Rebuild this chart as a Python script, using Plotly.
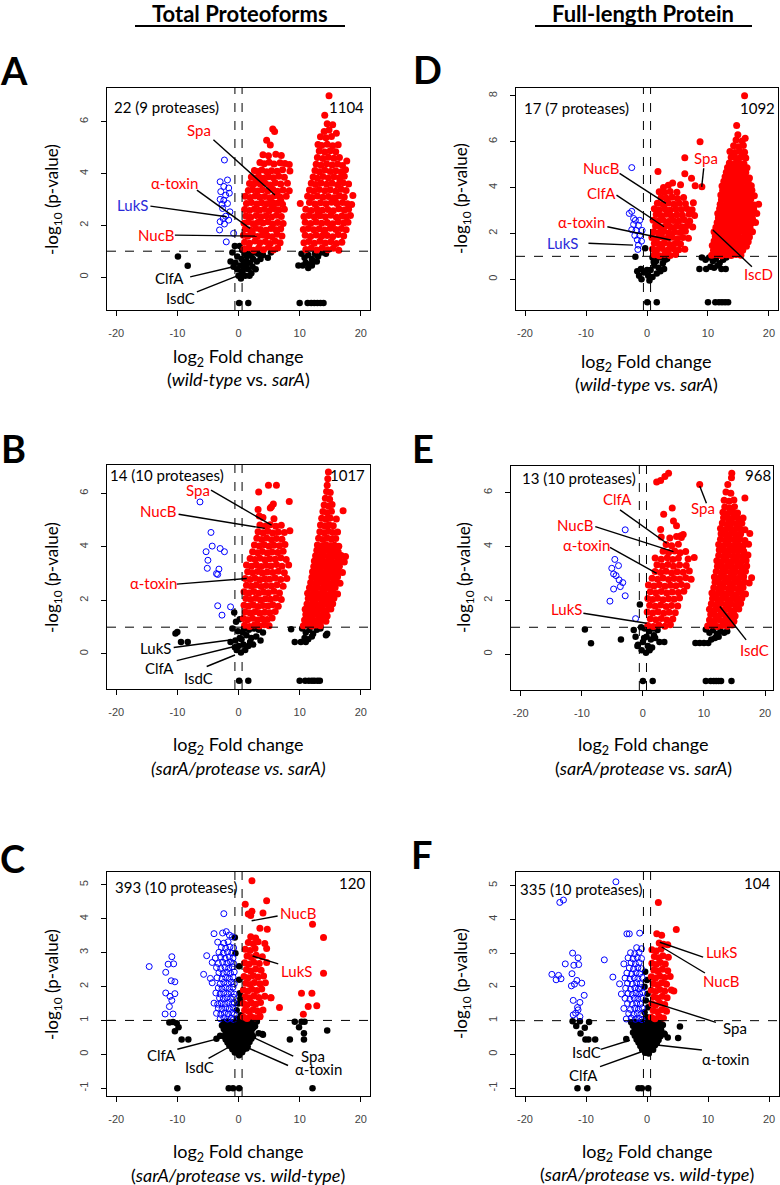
import plotly.graph_objects as go

W, H = 780, 1185
RED = "#ff0000"
BLUE = "#0000ff"
LBLUE = "#2a2ad8"
FONT = "Lato, 'Open Sans', sans-serif"

# ----------------------------------------------------------------- data
# (log2 fold change, -log10 p-value) pairs

# ---- Panel A: total proteoforms, wild-type vs sarA
A_red = [
    (0.9,1.08),(1.7,1.13),(2.5,1.04),(3.3,1.12),(4.1,1.06),(4.9,1.15),(5.7,1.05),(6.4,1.12),
    (1.0,1.35),(1.8,1.31),(2.7,1.39),(3.5,1.33),(4.4,1.37),(5.2,1.30),(6.0,1.38),(6.8,1.33),
    (0.8,1.62),(1.5,1.58),(2.3,1.64),(3.1,1.57),(3.9,1.63),(4.7,1.60),(5.5,1.56),(6.3,1.65),(7.1,1.59),
    (1.1,1.86),(1.9,1.82),(2.8,1.89),(3.6,1.84),(4.5,1.81),(5.3,1.88),(6.1,1.83),(6.9,1.87),
    (0.9,2.08),(1.6,2.13),(2.4,2.06),(3.2,2.12),(4.0,2.09),(4.8,2.14),(5.6,2.05),(6.4,2.11),(7.3,2.07),
    (1.2,2.36),(2.0,2.31),(2.9,2.38),(3.7,2.33),(4.5,2.37),(5.4,2.32),(6.2,2.39),(7.0,2.34),
    (1.0,2.61),(1.8,2.57),(2.6,2.63),(3.4,2.58),(4.2,2.62),(5.0,2.56),(5.8,2.64),(6.6,2.59),(7.5,2.62),
    (1.3,2.84),(2.1,2.88),(3.0,2.82),(3.8,2.87),(4.6,2.83),(5.5,2.89),(6.3,2.85),(7.2,2.81),
    (1.1,3.12),(1.9,3.07),(2.7,3.13),(3.5,3.08),(4.3,3.11),(5.1,3.06),(5.9,3.14),(6.8,3.09),(7.8,3.12),
    (1.6,3.34),(2.3,3.38),(3.1,3.32),(3.9,3.37),(4.8,3.33),(5.6,3.39),(6.4,3.31),(7.3,3.36),(8.3,3.33),
    (1.8,3.61),(2.4,3.57),(2.8,3.63),(3.6,3.58),(4.4,3.62),(5.2,3.56),(6.0,3.64),(6.9,3.59),(8.0,3.62),
    (2.1,3.86),(2.7,3.83),(3.3,3.88),(4.1,3.82),(4.9,3.87),(5.7,3.84),(6.6,3.89),(7.5,3.85),
    (2.6,4.12),(3.2,4.08),(3.8,4.13),(4.6,4.07),(5.4,4.11),(6.3,4.09),(7.2,4.14),(8.4,4.10),
    (3.5,4.42),(4.2,4.38),(5.0,4.43),(5.8,4.37),(6.8,4.41),(7.6,4.39),
    (4.0,4.72),(4.9,4.68),(6.1,4.74),(7.0,4.69),(8.3,4.35),
    (5.2,5.10),(5.6,5.72),(5.9,5.62),(4.6,5.28),(3.4,3.72),(5.5,2.72),(2.2,1.72),(6.9,2.96),
    (11.0,1.07),(11.9,1.12),(12.8,1.05),(13.7,1.13),(14.6,1.06),(15.5,1.11),(16.4,1.04),
    (10.7,1.33),(11.5,1.37),(12.4,1.31),(13.3,1.38),(14.2,1.32),(15.1,1.36),(16.0,1.30),(16.9,1.35),
    (10.9,1.62),(11.8,1.57),(12.7,1.63),(13.6,1.58),(14.5,1.61),(15.4,1.56),(16.3,1.64),(17.2,1.59),
    (10.6,1.84),(11.4,1.88),(12.3,1.83),(13.2,1.87),(14.1,1.82),(15.0,1.89),(15.9,1.84),(16.8,1.88),(17.6,1.83),
    (10.9,2.12),(11.8,2.07),(12.7,2.13),(13.6,2.08),(14.5,2.11),(15.4,2.06),(16.3,2.14),(17.2,2.09),(17.9,2.12),
    (10.7,2.34),(11.5,2.38),(12.4,2.32),(13.3,2.37),(14.2,2.33),(15.1,2.39),(16.0,2.31),(16.9,2.36),(17.6,2.33),(18.3,2.38),
    (11.0,2.62),(11.9,2.57),(12.8,2.63),(13.7,2.58),(14.6,2.61),(15.5,2.56),(16.4,2.64),(17.3,2.59),(18.0,2.62),
    (10.1,2.84),(11.6,2.88),(12.5,2.82),(13.4,2.87),(14.3,2.83),(15.2,2.89),(16.1,2.84),(17.0,2.88),(17.8,2.83),(18.5,2.80),
    (11.3,3.12),(12.0,3.07),(12.9,3.13),(13.8,3.08),(14.7,3.11),(15.6,3.06),(16.5,3.14),(17.3,3.09),(18.7,3.15),
    (11.6,3.36),(12.3,3.32),(13.2,3.38),(14.1,3.33),(15.0,3.37),(15.9,3.31),(16.8,3.39),(17.6,3.34),
    (11.9,3.62),(12.6,3.57),(13.5,3.63),(14.4,3.58),(15.3,3.62),(16.2,3.56),(17.1,3.64),(18.0,3.59),
    (12.2,3.86),(12.9,3.82),(13.8,3.88),(14.7,3.83),(15.6,3.87),(16.5,3.84),(17.3,3.89),
    (12.5,4.12),(13.2,4.07),(14.1,4.13),(15.0,4.08),(15.9,4.11),(16.8,4.06),(17.5,4.14),
    (12.7,4.36),(13.5,4.32),(14.4,4.38),(15.3,4.33),(16.2,4.37),(17.0,4.31),(17.7,4.48),
    (12.9,4.62),(13.8,4.58),(14.7,4.63),(15.6,4.59),(16.5,4.62),
    (13.2,4.87),(14.1,4.83),(15.0,4.88),(15.9,4.84),
    (13.0,5.12),(13.6,5.08),(14.5,5.13),(15.4,5.07),(16.3,5.11),
    (13.4,5.42),(14.3,5.38),(15.2,5.43),
    (14.0,5.62),(14.8,5.68),(16.0,5.55),
    (14.5,5.92),(15.4,5.88),(14.1,6.25),(14.8,7.0),(13.0,2.47),(15.8,2.97),(14.0,1.72),(16.6,3.72),
]
A_blue = [
    (-2.3,4.52),(-3.0,3.68),(-1.8,3.75),(-2.4,3.50),(-1.6,3.44),(-1.5,3.24),(-2.9,3.30),
    (-2.1,3.16),(-2.4,2.97),(-3.0,3.00),(-2.7,2.81),(-1.8,2.84),(-2.6,2.65),(-2.1,2.35),
    (-2.5,2.26),(-1.6,2.20),(-3.0,2.14),(-2.3,2.05),(-0.8,1.69),(-3.1,1.82),(-2.0,1.36),(-1.4,2.52),
]
A_black = [
    (-1.0,0.95),(-0.6,1.2),(0.2,1.2),(0.6,1.05),(-0.2,0.8),(0.5,0.7),(1.0,0.9),(1.5,0.95),
    (2.0,0.85),(2.6,0.95),(3.2,0.9),(4.0,0.85),(4.8,0.75),(5.3,0.95),(1.3,0.6),(1.9,0.55),
    (2.4,0.7),(3.0,0.6),(0.3,0.45),(0.9,0.35),(1.6,0.3),(2.3,0.4),(-0.8,0.4),(-0.2,0.3),
    (0.5,0.15),(1.1,0.05),(0.0,0.05),(0.7,0.25),(1.4,0.8),(0.9,0.55),(-1.3,0.6),(-0.5,0.55),
    (2.8,0.3),(1.8,0.05),(0.4,-0.05),(1.2,0.45),(3.6,0.7),(2.1,0.15),
    (-9.9,0.8),(-8.3,0.44),
    (10.3,0.9),(10.8,0.75),(11.4,0.85),(12.0,0.7),(12.5,0.9),(13.0,0.8),(13.6,0.95),(14.3,0.9),
    (11.0,0.55),(11.7,0.5),(12.3,0.6),(11.4,0.35),(12.0,0.45),(9.8,0.45),(10.5,0.45),(12.8,0.6),
    (0.1,-1),(1.6,-1),(10.0,-1),(11.3,-1),(11.9,-1),(12.4,-1),(12.9,-1),(13.4,-1),(13.9,-1),
]

# ---- Panel D: full-length protein, wild-type vs sarA
D_red = [
    (1.2,1.07),(2.0,1.03),(2.9,1.09),(3.8,1.04),(4.7,1.08),
    (0.9,1.32),(1.6,1.28),(2.5,1.34),(3.4,1.27),(4.3,1.33),(5.2,1.29),(6.2,1.31),
    (1.2,1.57),(2.0,1.53),(2.8,1.58),(3.7,1.52),(4.6,1.56),(5.5,1.54),
    (0.8,1.82),(1.6,1.78),(2.4,1.84),(3.3,1.79),(4.1,1.83),(5.0,1.77),(5.9,1.82),(6.8,1.79),
    (1.1,2.07),(1.9,2.03),(2.8,2.08),(3.6,2.02),(4.5,2.06),(5.4,2.04),(6.3,2.09),
    (1.4,2.32),(2.2,2.28),(3.1,2.33),(3.9,2.27),(4.8,2.31),(5.7,2.29),(6.6,2.34),(7.5,2.28),
    (1.0,2.57),(1.8,2.53),(2.6,2.58),(3.5,2.52),(4.3,2.56),(5.2,2.54),(6.1,2.59),(7.0,2.53),
    (1.5,2.82),(2.3,2.78),(3.2,2.83),(4.0,2.77),(4.9,2.81),(5.8,2.79),(6.9,2.84),(7.8,2.78),
    (1.2,3.07),(2.0,3.03),(2.9,3.08),(3.8,3.02),(4.7,3.06),(5.6,3.04),(6.5,3.09),(7.4,3.03),
    (1.7,3.32),(2.6,3.28),(3.5,3.33),(4.4,3.27),(5.3,3.31),(6.3,3.29),(7.6,3.34),
    (2.3,3.57),(3.2,3.53),(4.1,3.58),(5.0,3.52),(6.0,3.56),
    (2.0,3.82),(2.9,3.78),(3.8,3.83),(4.9,3.79),
    (3.5,4.10),(5.5,4.12),(7.9,4.08),
    (1.8,4.70),(6.2,4.60),(7.3,4.40),(6.2,5.30),(8.7,6.00),(9.0,4.03),(4.2,4.20),(2.7,4.00),
    (10.6,1.05),(11.4,1.08),(12.2,1.03),(13.0,1.07),(13.8,1.04),(14.6,1.08),(15.4,1.05),
    (10.9,1.27),(11.7,1.23),(12.5,1.28),(13.3,1.24),(14.1,1.27),(14.9,1.22),(15.7,1.26),
    (10.7,1.47),(11.5,1.43),(12.3,1.48),(13.1,1.44),(13.9,1.46),(14.7,1.42),(15.5,1.48),(16.3,1.44),
    (11.0,1.67),(11.8,1.63),(12.6,1.68),(13.4,1.64),(14.2,1.66),(15.0,1.62),(15.8,1.68),(16.6,1.64),
    (11.2,1.87),(12.0,1.83),(12.8,1.88),(13.6,1.84),(14.4,1.86),(15.2,1.82),(16.0,1.88),(16.8,1.84),
    (11.0,2.07),(11.8,2.03),(12.6,2.08),(13.4,2.04),(14.2,2.06),(15.0,2.02),(15.8,2.08),(16.6,2.04),(17.3,2.07),
    (11.3,2.27),(12.1,2.23),(12.9,2.28),(13.7,2.24),(14.5,2.26),(15.3,2.22),(16.1,2.28),(16.9,2.24),
    (11.5,2.47),(12.3,2.43),(13.1,2.48),(13.9,2.44),(14.7,2.46),(15.5,2.42),(16.3,2.48),(17.1,2.44),(17.8,2.47),
    (11.7,2.67),(12.5,2.63),(13.3,2.68),(14.1,2.64),(14.9,2.66),(15.7,2.62),(16.5,2.68),(17.3,2.64),
    (11.6,2.87),(12.4,2.83),(13.2,2.88),(14.0,2.84),(14.8,2.86),(15.6,2.82),(16.4,2.88),(17.2,2.84),(18.0,2.87),
    (11.9,3.07),(12.7,3.03),(13.5,3.08),(14.3,3.04),(15.1,3.06),(15.9,3.02),(16.7,3.08),(17.5,3.04),
    (12.0,3.27),(12.8,3.23),(13.6,3.28),(14.4,3.24),(15.2,3.26),(16.0,3.22),(16.8,3.28),(17.6,3.24),(18.3,3.27),
    (12.2,3.47),(13.0,3.43),(13.8,3.48),(14.6,3.44),(15.4,3.46),(16.2,3.42),(17.0,3.48),
    (12.1,3.67),(12.9,3.63),(13.7,3.68),(14.5,3.64),(15.3,3.66),(16.1,3.62),(16.9,3.68),(17.6,3.64),
    (12.4,3.87),(13.2,3.83),(14.0,3.88),(14.8,3.84),(15.6,3.86),(16.4,3.82),(17.2,3.88),
    (12.3,4.07),(13.1,4.03),(13.9,4.08),(14.7,4.04),(15.5,4.06),(16.3,4.02),(17.1,4.08),
    (12.6,4.27),(13.4,4.23),(14.2,4.28),(15.0,4.24),(15.8,4.26),(16.6,4.22),
    (12.8,4.47),(13.6,4.43),(14.4,4.48),(15.2,4.44),(16.0,4.46),(16.8,4.42),
    (13.0,4.67),(13.8,4.63),(14.6,4.68),(15.4,4.64),(16.2,4.66),
    (13.2,4.87),(14.0,4.83),(14.8,4.88),(15.6,4.84),(16.4,4.86),
    (13.5,5.07),(14.3,5.03),(15.1,5.08),(15.9,5.04),
    (13.8,5.32),(14.6,5.28),(15.4,5.33),(16.2,5.29),
    (13.6,5.57),(14.4,5.53),(15.2,5.58),(16.0,5.54),
    (14.2,5.82),(15.0,5.78),(15.8,5.83),
    (14.6,6.07),(15.6,6.03),(16.1,6.15),(14.9,6.30),(14.7,6.70),(16.0,8.0),
]
D_blue = [
    (-2.5,4.87),(-2.9,2.87),(-2.5,2.96),(-1.9,2.57),(-2.2,2.39),(-1.4,2.35),(-1.8,2.13),
    (-2.5,2.16),(-0.8,2.13),(-1.2,1.91),(-1.6,1.72),(-0.9,1.66),(-2.0,1.91),(-1.4,1.49),
    (-1.5,1.30),(-2.2,2.65),(-1.2,2.57),
]
D_black = [
    (-1.9,0.98),(-0.3,1.35),(0.9,0.95),(1.5,0.8),(2.3,0.95),(3.0,0.85),(1.2,0.6),(1.9,0.5),
    (2.6,0.7),(0.6,0.4),(-1.0,0.45),(-1.6,0.35),(-0.5,0.3),(0.2,0.15),(0.9,0.1),(0.4,-0.05),
    (1.6,0.25),(2.2,0.35),(-1.3,0.15),(0.0,0.4),(2.8,0.45),(1.1,0.75),(-0.9,0.0),(3.3,0.9),
    (9.0,0.95),(9.6,0.85),(10.2,0.95),(10.8,0.8),(11.3,0.9),(11.9,0.7),(12.5,0.85),(13.0,0.95),
    (10.4,0.55),(11.0,0.5),(11.6,0.6),(12.2,0.45),(8.6,0.45),(9.7,0.45),(12.9,0.45),
    (0.05,-1),(1.6,-1),(10.0,-1),(11.2,-1),(11.8,-1),(12.3,-1),(12.8,-1),(13.3,-1),
]

# ---- Panel B: total proteoforms, sarA/protease vs sarA
B_red = [
    (1.0,1.07),(1.8,1.03),(2.6,1.08),(3.4,1.04),(4.2,1.09),(5.0,1.05),
    (0.8,1.32),(1.5,1.28),(2.3,1.33),(3.1,1.27),(3.9,1.31),(4.7,1.29),(5.5,1.34),
    (1.1,1.57),(1.9,1.53),(2.7,1.58),(3.5,1.52),(4.3,1.56),(5.1,1.54),(6.0,1.59),
    (0.9,1.82),(1.6,1.78),(2.4,1.83),(3.2,1.77),(4.0,1.81),(4.8,1.79),(5.6,1.84),(6.5,1.78),
    (1.2,2.07),(2.0,2.03),(2.8,2.08),(3.6,2.02),(4.4,2.06),(5.2,2.04),(6.1,2.09),(7.0,2.03),
    (0.9,2.32),(1.7,2.28),(2.5,2.33),(3.3,2.27),(4.1,2.31),(4.9,2.29),(5.8,2.34),(6.7,2.28),
    (1.3,2.57),(2.1,2.53),(2.9,2.58),(3.7,2.52),(4.5,2.56),(5.4,2.54),(6.3,2.59),(7.3,2.53),
    (1.1,2.82),(1.9,2.78),(2.7,2.83),(3.5,2.77),(4.3,2.81),(5.1,2.79),(6.0,2.84),(6.9,2.78),(7.9,2.82),
    (1.5,3.07),(2.3,3.03),(3.1,3.08),(3.9,3.02),(4.7,3.06),(5.6,3.04),(6.5,3.09),(7.5,3.03),
    (1.3,3.32),(2.1,3.28),(2.9,3.33),(3.7,3.27),(4.5,3.31),(5.3,3.29),(6.2,3.34),(7.1,3.28),(8.2,3.32),
    (1.9,3.57),(2.7,3.53),(3.5,3.58),(4.3,3.52),(5.1,3.56),(6.0,3.54),(6.9,3.59),(7.8,3.53),
    (2.3,3.82),(3.1,3.78),(3.9,3.83),(4.7,3.77),(5.5,3.81),(6.4,3.79),(7.3,3.84),
    (2.6,4.07),(3.4,4.03),(4.2,4.08),(5.0,4.02),(5.8,4.06),(6.7,4.04),(7.6,4.09),
    (3.0,4.32),(3.8,4.28),(4.6,4.33),(5.4,4.27),(6.2,4.31),(7.1,4.29),
    (3.2,4.57),(4.0,4.53),(4.8,4.58),(5.6,4.52),(6.5,4.56),(7.5,4.54),(8.4,4.60),
    (3.5,4.82),(4.4,4.78),(5.2,4.83),(6.1,4.77),(7.0,4.81),
    (4.0,5.10),(5.8,5.05),(3.4,5.15),(3.2,5.40),(5.2,5.45),
    (3.3,6.05),(4.9,6.30),(5.7,5.60),(6.2,6.30),(5.4,5.50),(8.3,5.70),
    (10.6,1.05),(11.3,1.09),(12.0,1.04),(12.7,1.08),(13.4,1.05),
    (10.8,1.27),(11.5,1.23),(12.2,1.28),(12.9,1.24),(13.6,1.27),(14.3,1.22),
    (11.0,1.47),(11.7,1.43),(12.4,1.48),(13.1,1.44),(13.8,1.46),(14.5,1.42),
    (10.9,1.67),(11.6,1.63),(12.3,1.68),(13.0,1.64),(13.7,1.66),(14.4,1.62),(15.1,1.68),
    (11.2,1.87),(11.9,1.83),(12.6,1.88),(13.3,1.84),(14.0,1.86),(14.7,1.82),(15.4,1.88),
    (11.4,2.07),(12.1,2.03),(12.8,2.08),(13.5,2.04),(14.2,2.06),(14.9,2.02),(15.6,2.08),
    (11.3,2.27),(12.0,2.23),(12.7,2.28),(13.4,2.24),(14.1,2.26),(14.8,2.22),(15.5,2.28),(16.2,2.24),
    (11.6,2.47),(12.3,2.43),(13.0,2.48),(13.7,2.44),(14.4,2.46),(15.1,2.42),(15.8,2.48),
    (11.8,2.67),(12.5,2.63),(13.2,2.68),(13.9,2.64),(14.6,2.66),(15.3,2.62),(16.0,2.68),(16.6,2.64),
    (12.0,2.87),(12.7,2.83),(13.4,2.88),(14.1,2.84),(14.8,2.86),(15.5,2.82),(16.2,2.88),
    (12.1,3.07),(12.8,3.03),(13.5,3.08),(14.2,3.04),(14.9,3.06),(15.6,3.02),(16.3,3.08),(17.0,3.04),
    (12.3,3.27),(13.0,3.23),(13.7,3.28),(14.4,3.24),(15.1,3.26),(15.8,3.22),(16.5,3.28),
    (12.4,3.47),(13.1,3.43),(13.8,3.48),(14.5,3.44),(15.2,3.46),(15.9,3.42),(16.6,3.48),(17.3,3.44),
    (12.6,3.67),(13.3,3.63),(14.0,3.68),(14.7,3.64),(15.4,3.66),(16.1,3.62),(16.8,3.68),(17.5,3.64),
    (12.8,3.87),(13.5,3.83),(14.2,3.88),(14.9,3.84),(15.6,3.86),(16.3,3.82),
    (12.9,4.07),(13.6,4.03),(14.3,4.08),(15.0,4.04),(15.7,4.06),(16.4,4.02),
    (13.1,4.32),(13.8,4.28),(14.5,4.33),(15.2,4.29),(15.9,4.31),
    (13.3,4.57),(14.0,4.53),(14.7,4.58),(15.4,4.54),(16.2,4.56),
    (13.4,4.82),(14.1,4.78),(14.8,4.83),(15.5,4.79),
    (13.6,5.07),(14.3,5.03),(15.0,5.08),(16.0,5.04),
    (13.8,5.32),(14.5,5.28),(15.2,5.33),(17.1,5.35),
    (14.0,5.57),(14.7,5.53),(15.3,5.58),
    (14.2,5.82),(14.9,5.78),(14.4,6.07),(15.0,6.03),(14.5,6.30),(14.6,6.55),(14.7,6.80),
]
B_blue = [
    (-6.3,5.68),(-4.5,4.54),(-5.3,3.82),(-4.3,4.03),(-3.0,3.94),(-2.3,3.82),(-5.0,3.50),
    (-5.1,3.20),(-3.2,3.17),(-3.6,3.00),(-3.4,2.97),(-3.4,1.80),(-1.3,1.76),(-2.7,1.45),
]
B_black = [
    (-0.7,1.55),(-0.4,1.2),(0.2,1.3),(-1.0,0.95),(-0.1,0.85),(0.9,0.95),(1.7,0.9),(2.5,0.95),
    (3.3,0.9),(4.0,0.8),(1.3,0.7),(2.1,0.6),(2.9,0.65),(0.5,0.55),(-0.5,0.5),(-1.3,0.45),
    (0.0,0.3),(0.8,0.35),(1.6,0.3),(2.4,0.35),(-0.3,0.15),(0.4,0.05),(1.1,0.15),(-0.6,0.25),
    (0.2,0.6),(1.9,0.45),(0.7,0.8),(3.6,0.5),
    (-10.3,0.76),(-10.0,0.82),(-9.4,0.45),(-8.3,0.45),
    (8.6,0.92),(10.4,0.95),(11.0,0.8),(11.6,0.9),(12.2,0.75),(12.8,0.9),(13.4,0.95),(10.8,0.6),
    (11.4,0.55),(12.0,0.65),(9.2,0.45),(10.2,0.45),(11.0,0.45),(14.5,0.75),(14.3,0.7),
    (0.1,-1),(1.6,-1),(10.0,-1),(10.9,-1),(11.5,-1),(12.0,-1),(12.4,-1),(12.9,-1),(13.3,-1),
]

# ---- Panel E: full-length protein, sarA/protease vs sarA
E_red = [
    (0.8,1.07),(1.7,1.03),(2.6,1.08),(3.6,1.04),(4.5,1.09),
    (1.2,1.32),(2.1,1.28),(3.0,1.33),(3.9,1.27),(4.9,1.31),
    (0.7,1.57),(1.6,1.53),(2.5,1.58),(3.4,1.52),(4.3,1.56),(5.3,1.54),
    (1.1,1.82),(2.0,1.78),(2.9,1.83),(3.8,1.77),(4.7,1.81),(5.7,1.79),
    (0.8,2.07),(1.6,2.03),(2.4,2.08),(3.3,2.02),(4.2,2.06),(5.1,2.04),(6.0,2.09),
    (1.2,2.32),(2.1,2.28),(3.0,2.33),(3.9,2.27),(4.8,2.31),(5.8,2.29),(6.7,2.34),
    (0.9,2.57),(1.8,2.53),(2.7,2.58),(3.6,2.52),(4.5,2.56),(5.4,2.54),(6.3,2.59),(7.2,2.53),
    (1.5,2.82),(2.4,2.78),(3.3,2.83),(4.2,2.77),(5.1,2.81),(6.0,2.79),(7.0,2.84),(7.9,2.78),
    (2.0,3.07),(2.9,3.03),(3.8,3.08),(4.7,3.02),(5.6,3.06),(6.6,3.04),(7.6,3.09),
    (2.3,3.32),(3.2,3.28),(4.1,3.33),(5.0,3.27),(6.0,3.31),(7.1,3.29),
    (2.0,3.57),(3.0,3.53),(4.0,3.58),(4.9,3.52),(5.8,3.56),(7.4,3.54),(8.4,3.59),
    (3.3,3.82),(4.2,3.78),(5.2,3.83),(6.1,3.77),(7.0,3.81),
    (3.8,4.07),(4.7,4.03),(5.8,4.08),(3.0,4.35),(4.4,4.32),(5.5,4.37),(6.3,4.33),
    (2.25,6.40),(2.9,6.45),(3.6,6.60),(4.2,6.72),(4.8,5.43),(3.4,5.20),(5.0,4.95),(5.5,4.77),
    (2.9,4.63),(6.2,4.40),(6.6,4.45),(9.3,6.30),
    (10.6,1.05),(11.4,1.08),(12.2,1.03),(13.0,1.07),(13.8,1.04),(14.6,1.08),
    (10.9,1.27),(11.7,1.23),(12.5,1.28),(13.3,1.24),(14.1,1.27),(14.9,1.22),
    (11.1,1.47),(11.9,1.43),(12.7,1.48),(13.5,1.44),(14.3,1.46),(15.1,1.42),
    (10.9,1.67),(11.7,1.63),(12.5,1.68),(13.3,1.64),(14.1,1.66),(14.9,1.62),(15.7,1.68),
    (11.2,1.87),(12.0,1.83),(12.8,1.88),(13.6,1.84),(14.4,1.86),(15.2,1.82),(16.0,1.88),
    (11.4,2.07),(12.2,2.03),(13.0,2.08),(13.8,2.04),(14.6,2.06),(15.4,2.02),(16.2,2.08),
    (11.3,2.27),(12.1,2.23),(12.9,2.28),(13.7,2.24),(14.5,2.26),(15.3,2.22),(16.1,2.28),(16.8,2.24),
    (11.6,2.47),(12.4,2.43),(13.2,2.48),(14.0,2.44),(14.8,2.46),(15.6,2.42),(16.4,2.48),
    (11.8,2.67),(12.6,2.63),(13.4,2.68),(14.2,2.64),(15.0,2.66),(15.8,2.62),(16.6,2.68),(17.4,2.64),
    (11.7,2.87),(12.5,2.83),(13.3,2.88),(14.1,2.84),(14.9,2.86),(15.7,2.82),(16.5,2.88),(17.8,2.84),
    (12.0,3.07),(12.8,3.03),(13.6,3.08),(14.4,3.04),(15.2,3.06),(16.0,3.02),(16.8,3.08),
    (12.2,3.27),(13.0,3.23),(13.8,3.28),(14.6,3.24),(15.4,3.26),(16.2,3.22),(17.0,3.28),
    (12.1,3.47),(12.9,3.43),(13.7,3.48),(14.5,3.44),(15.3,3.46),(16.1,3.42),(16.9,3.48),
    (12.4,3.67),(13.2,3.63),(14.0,3.68),(14.8,3.64),(15.6,3.66),(16.4,3.62),(17.2,3.68),
    (12.5,3.87),(13.3,3.83),(14.1,3.88),(14.9,3.84),(15.7,3.86),(16.5,3.82),
    (12.4,4.07),(13.2,4.03),(14.0,4.08),(14.8,4.04),(15.6,4.06),(16.4,4.02),(17.3,4.08),
    (12.7,4.27),(13.5,4.23),(14.3,4.28),(15.1,4.24),(15.9,4.26),(16.7,4.22),
    (12.8,4.47),(13.6,4.43),(14.4,4.48),(15.2,4.44),(16.0,4.46),(17.5,4.48),
    (12.7,4.67),(13.5,4.63),(14.3,4.68),(15.1,4.64),(15.9,4.66),(16.7,4.62),
    (13.0,4.87),(13.8,4.83),(14.6,4.88),(15.4,4.84),(16.2,4.86),
    (13.2,5.07),(14.0,5.03),(14.8,5.08),(15.6,5.04),(16.4,5.06),
    (13.1,5.27),(13.9,5.23),(14.7,5.28),(15.5,5.24),
    (13.4,5.47),(14.2,5.43),(15.0,5.48),
    (13.3,5.72),(14.1,5.68),(14.9,5.73),(16.7,5.80),
    (13.6,6.02),(14.4,5.98),(13.9,6.30),(14.5,6.55),(14.55,6.72),
]
E_blue = [
    (-2.9,4.62),(-4.6,3.52),(-5.1,3.19),(-4.0,3.29),(-4.8,2.98),(-4.4,2.92),(-3.9,2.76),
    (-3.3,2.66),(-3.7,2.51),(-4.8,2.42),(-2.9,2.17),(-5.4,1.97),(-1.2,1.32),
]
E_black = [
    (-0.5,1.85),(-1.5,0.9),(-0.3,1.0),(0.3,0.95),(1.0,0.85),(1.7,0.95),(2.4,0.9),(0.6,0.65),
    (1.3,0.55),(2.0,0.6),(-1.2,0.65),(-0.8,0.35),(0.0,0.45),(0.8,0.3),(1.5,0.25),(-0.2,0.15),
    (0.5,0.05),(-0.9,0.3),(2.7,0.45),(3.5,0.45),(1.1,0.15),(0.2,0.6),(1.8,0.7),
    (-9.5,0.92),(-8.5,0.41),(-3.6,0.55),
    (10.3,0.92),(10.9,0.8),(11.5,0.9),(12.1,0.75),(12.7,0.85),(13.3,0.8),(11.2,0.55),(11.8,0.6),
    (12.4,0.65),(8.6,0.42),(9.3,0.42),(10.0,0.42),(10.7,0.42),(13.8,0.85),
    (0.0,-1),(1.6,-1),(10.3,-1),(11.1,-1),(11.6,-1),(12.0,-1),(12.4,-1),(12.8,-1),(14.5,-1),
]

# ---- Panel C: total proteoforms, sarA/protease vs wild-type
C_red = [
    (0.8,1.10),(1.4,1.06),(2.0,1.12),(2.7,1.08),(3.5,1.13),
    (1.0,1.30),(1.7,1.26),(2.4,1.32),(3.1,1.28),(4.0,1.31),
    (0.8,1.50),(1.4,1.46),(2.1,1.52),(2.8,1.48),(3.6,1.53),
    (1.1,1.70),(1.8,1.66),(2.5,1.72),(3.3,1.68),(4.3,1.71),(5.3,1.67),
    (0.8,1.90),(1.5,1.86),(2.2,1.92),(3.0,1.88),(3.8,1.93),
    (1.2,2.10),(1.9,2.06),(2.6,2.12),(3.5,2.08),(4.4,2.11),
    (0.9,2.30),(1.6,2.26),(2.4,2.32),(3.2,2.28),(4.1,2.31),
    (1.3,2.50),(2.0,2.46),(2.8,2.52),(3.7,2.48),
    (1.0,2.70),(1.7,2.66),(2.5,2.72),(3.4,2.68),(4.6,2.71),
    (1.4,2.90),(2.1,2.86),(2.9,2.92),(3.9,2.88),
    (1.1,3.10),(1.9,3.06),(2.7,3.12),(4.6,3.12),
    (1.6,3.30),(2.4,3.26),(3.2,3.32),(4.3,3.27),
    (2.0,3.47),(2.8,3.43),
    (2.2,5.12),(1.1,4.43),(4.6,4.53),(1.6,4.14),(2.2,4.22),(4.0,4.17),(3.5,3.72),(4.7,3.69),(2.0,4.10),
    (12.1,3.84),(13.9,3.45),(13.9,2.39),(10.3,1.80),(12.0,1.80),(6.7,1.38),(5.3,1.67),(11.4,1.41),
    (12.8,1.43),(10.6,1.18),(3.5,1.11),
]
C_blue = [
    (-14.6,2.59),(-10.9,2.88),(-11.5,2.66),(-10.6,2.67),(-11.9,2.42),(-11.0,2.17),(-10.4,2.14),
    (-11.9,1.81),(-11.2,1.71),(-10.4,1.79),(-10.9,1.59),(-11.3,1.41),(-12.0,1.19),(-10.7,1.19),
    (-3.0,1.05),(-2.4,1.08),(-1.8,1.04),(-1.2,1.07),(-0.8,1.03),
    (-3.6,1.21),(-2.9,1.18),(-2.3,1.22),(-1.7,1.19),(-1.1,1.23),(-0.7,1.18),
    (-3.3,1.36),(-2.7,1.33),(-2.1,1.37),(-1.5,1.34),(-0.9,1.38),
    (-4.0,1.51),(-3.4,1.48),(-2.8,1.52),(-2.2,1.49),(-1.6,1.53),(-1.0,1.48),(-0.7,1.52),
    (-3.1,1.66),(-2.5,1.63),(-1.9,1.67),(-1.3,1.64),(-0.8,1.68),
    (-3.7,1.81),(-3.0,1.78),(-2.4,1.82),(-1.8,1.79),(-1.2,1.83),(-0.7,1.78),
    (-3.3,1.96),(-2.7,1.93),(-2.1,1.97),(-1.5,1.94),(-0.9,1.98),
    (-4.3,2.11),(-3.0,2.08),(-2.4,2.12),(-1.8,2.09),(-1.2,2.13),(-0.7,2.08),
    (-4.6,2.24),(-3.5,2.26),(-2.7,2.23),(-2.1,2.27),(-1.5,2.24),(-0.9,2.28),
    (-5.7,2.36),(-3.2,2.41),(-2.5,2.38),(-1.9,2.42),(-1.3,2.39),(-0.7,2.43),
    (-3.6,2.56),(-2.9,2.53),(-2.2,2.57),(-1.6,2.54),(-1.0,2.58),
    (-4.3,2.71),(-3.3,2.68),(-2.6,2.72),(-1.9,2.69),(-1.3,2.73),(-0.8,2.68),
    (-5.2,2.91),(-3.8,2.84),(-2.9,2.87),(-2.2,2.83),(-1.5,2.88),(-0.9,2.84),
    (-3.2,3.01),(-2.5,2.98),(-1.8,3.02),(-1.1,2.99),
    (-2.8,3.16),(-2.1,3.13),(-1.4,3.17),(-0.8,3.14),
    (-3.4,3.31),(-2.4,3.28),(-1.7,3.32),
    (-4.0,3.56),(-2.6,3.58),(-1.5,3.52),(-1.0,3.47),(-2.0,3.62),(-2.4,4.15),
]
C_black = [
    (-2.4,0.95),(-1.8,0.97),(-1.2,0.94),(-0.6,0.96),(0.0,0.93),(0.6,0.97),(1.2,0.94),(1.8,0.96),(2.4,0.93),(3.0,0.97),
    (-2.7,0.85),(-2.1,0.83),(-1.5,0.86),(-0.9,0.84),(-0.3,0.87),(0.3,0.83),(0.9,0.86),(1.5,0.84),(2.1,0.87),(2.7,0.83),
    (-2.4,0.75),(-1.8,0.73),(-1.2,0.76),(-0.6,0.74),(0.0,0.77),(0.6,0.73),(1.2,0.76),(1.8,0.74),(2.4,0.77),
    (-2.1,0.65),(-1.5,0.63),(-0.9,0.66),(-0.3,0.64),(0.3,0.67),(0.9,0.63),(1.5,0.66),(2.1,0.64),(3.3,0.62),
    (-3.0,0.55),(-2.4,0.53),(-1.8,0.56),(-1.2,0.54),(-0.6,0.57),(0.0,0.53),(0.6,0.56),(1.2,0.54),(1.8,0.57),(2.4,0.53),(4.0,0.58),
    (-3.6,0.46),(-2.1,0.44),(-1.5,0.47),(-0.9,0.43),(-0.3,0.46),(0.3,0.44),(0.9,0.47),(1.5,0.43),(2.1,0.46),
    (-1.8,0.35),(-1.2,0.33),(-0.6,0.36),(0.0,0.34),(0.6,0.37),(1.2,0.33),(1.8,0.36),
    (-1.5,0.25),(-0.9,0.23),(-0.3,0.26),(0.3,0.24),(0.9,0.27),(1.5,0.23),
    (-1.0,0.15),(-0.4,0.13),(0.2,0.16),(0.8,0.14),(1.3,0.17),
    (-0.6,0.05),(0.0,0.03),(0.6,0.06),(0.1,-0.03),
    (-0.6,3.45),(-0.5,2.98),(0.1,2.2),(0.2,1.8),(0.0,1.5),(-0.3,1.3),(0.4,1.15),(-0.2,1.05),(0.1,2.6),(0.3,1.65),
    (-10.7,0.95),(-10.1,0.92),(-11.3,0.94),(-9.8,0.8),(-10.4,0.68),(-9.3,0.44),(-8.2,0.44),
    (9.2,0.96),(10.3,0.96),(10.8,0.96),(9.9,0.8),(10.7,0.62),(10.7,0.44),(8.4,0.44),(14.5,0.7),(3.9,0.6),
    (-10.0,-1),(-1.6,-1),(-0.9,-1),(0.1,-1),(12.1,-1),
]

# ---- Panel F: full-length protein, sarA/protease vs wild-type
F_red = [
    (0.7,1.10),(1.3,1.06),(2.0,1.12),(2.7,1.08),
    (1.0,1.30),(1.7,1.26),(2.4,1.32),(3.2,1.28),
    (0.8,1.50),(1.4,1.46),(2.1,1.52),(2.9,1.48),
    (1.1,1.70),(1.8,1.66),(2.5,1.72),(3.3,1.68),
    (0.7,1.90),(1.4,1.86),(2.1,1.92),(2.9,1.88),(4.0,1.91),(4.4,1.88),
    (1.0,2.10),(1.7,2.06),(2.4,2.12),(3.2,2.08),
    (0.7,2.30),(1.4,2.26),(2.1,2.32),(2.9,2.28),(3.8,2.31),
    (1.1,2.50),(1.8,2.46),(2.5,2.52),(3.4,2.48),
    (0.8,2.70),(1.5,2.66),(2.2,2.72),(3.0,2.68),
    (1.2,2.90),(1.9,2.86),(2.6,2.92),(3.5,2.88),
    (0.8,3.10),(1.5,3.06),(2.3,3.12),(3.4,3.25),
    (2.0,3.30),(2.7,3.26),(1.6,3.57),(2.4,3.53),
    (1.86,4.50),(4.8,3.70),
]
F_blue = [
    (-5.1,5.11),(-14.3,4.50),(-13.7,4.57),
    (-15.6,2.37),(-14.5,2.34),(-14.9,2.21),(-14.1,2.24),(-13.4,2.68),(-12.2,3.00),(-11.3,2.86),
    (-12.0,2.64),(-11.2,2.66),(-12.3,2.39),(-11.5,2.19),(-10.7,2.11),(-12.4,2.03),(-11.9,2.08),
    (-10.3,1.75),(-12.1,1.60),(-11.0,1.54),(-11.4,1.39),(-11.7,1.22),(-12.1,1.17),(-11.0,1.12),(-11.3,1.32),
    (-7.0,2.80),(-5.6,2.29),(-4.5,2.09),(-3.3,3.57),(-2.9,3.57),(-1.2,3.59),(-3.8,2.68),(-4.2,1.79),
    (-3.4,1.05),(-2.6,1.08),(-1.9,1.04),(-1.3,1.07),(-0.8,1.03),
    (-3.0,1.21),(-2.2,1.18),(-1.6,1.22),(-1.0,1.19),
    (-3.8,1.36),(-2.7,1.33),(-2.0,1.37),(-1.4,1.34),(-0.8,1.38),
    (-3.2,1.51),(-2.4,1.48),(-1.7,1.52),(-1.1,1.49),
    (-3.6,1.66),(-2.8,1.63),(-2.1,1.67),(-1.5,1.64),(-0.9,1.68),
    (-3.1,1.81),(-2.4,1.78),(-1.8,1.82),(-1.2,1.79),(-0.7,1.83),
    (-3.5,1.96),(-2.7,1.93),(-2.0,1.97),(-1.4,1.94),(-0.9,1.98),
    (-3.2,2.11),(-2.4,2.08),(-1.7,2.12),(-1.1,2.09),
    (-3.6,2.26),(-2.8,2.23),(-2.1,2.27),(-1.5,2.24),(-0.8,2.28),
    (-3.3,2.41),(-2.5,2.38),(-1.8,2.42),(-1.2,2.39),
    (-2.9,2.56),(-2.2,2.53),(-1.5,2.57),(-0.9,2.54),
    (-2.6,2.71),(-1.9,2.68),(-1.3,2.72),
    (-3.1,2.86),(-2.3,2.83),(-1.6,2.87),(-0.9,2.84),
    (-2.7,3.01),(-2.0,2.98),(-1.3,3.02),(-1.7,3.16),(-0.9,3.13),
]
F_black = [
    (-2.6,0.95),(-2.0,0.97),(-1.4,0.94),(-0.8,0.96),(-0.2,0.93),(0.4,0.97),(1.0,0.94),(1.6,0.96),(2.2,0.93),
    (-2.3,0.85),(-1.7,0.83),(-1.1,0.86),(-0.5,0.84),(0.1,0.87),(0.7,0.83),(1.3,0.86),(1.9,0.84),(2.6,0.87),
    (-2.0,0.75),(-1.4,0.73),(-0.8,0.76),(-0.2,0.74),(0.4,0.77),(1.0,0.73),(1.6,0.76),(2.3,0.74),
    (-2.3,0.65),(-1.7,0.63),(-1.1,0.66),(-0.5,0.64),(0.1,0.67),(0.7,0.63),(1.3,0.66),(1.9,0.64),(2.8,0.62),
    (-2.0,0.55),(-1.4,0.53),(-0.8,0.56),(-0.2,0.54),(0.4,0.57),(1.0,0.53),(1.6,0.56),(2.2,0.54),
    (-3.4,0.46),(-1.7,0.44),(-1.1,0.47),(-0.5,0.43),(0.1,0.46),(0.7,0.44),(1.3,0.47),(1.9,0.43),
    (-1.4,0.35),(-0.8,0.33),(-0.2,0.36),(0.4,0.34),(1.0,0.37),(1.6,0.33),
    (-1.1,0.25),(-0.5,0.23),(0.1,0.26),(0.7,0.24),(1.3,0.27),
    (-0.8,0.15),(-0.2,0.13),(0.4,0.16),(1.0,0.14),(-0.3,0.05),(0.3,0.03),
    (-0.3,2.45),(0.0,2.2),(-0.4,2.0),(0.1,1.8),(-0.2,1.6),(0.2,1.4),(-0.4,1.25),(0.0,1.1),
    (-12.2,0.98),(-11.6,0.84),(-11.0,0.98),(-9.5,0.96),(-10.2,0.79),(-10.9,0.62),(-10.1,0.44),
    (-9.6,0.44),(-8.5,0.44),(5.4,0.83),(5.1,0.49),(2.9,0.6),(3.4,0.5),
    (-11.4,-1),(-9.8,-1),(-1.4,-1),(-0.85,-1),(0.2,-1),
]

# labels: (text, colour, text x, text y, line x0, y0, line x1, y1) in data units
A_labels = [
    ("Spa", "red", -6.4, 5.68, -4.1, 5.30, 5.96, 3.17),
    ("α-toxin", "red", -10.4, 3.64, -6.8, 3.36, 1.88, 1.88),
    ("LukS", "blue", -17.3, 2.78, -14.4, 2.74, -1.93, 2.33),
    ("NucB", "red", -13.5, 1.62, -10.4, 1.62, 2.97, 1.58),
    ("ClfA", "black", -11.3, -0.05, -7.9, 0.01, -0.85, 0.40),
    ("IsdC", "black", -9.55, -0.80, -6.8, -0.57, -0.3, 0.04),
]
D_labels = [
    ("NucB", "red", -7.6, 4.84, -4.5, 4.62, 3.1, 3.31),
    ("ClfA", "red", -7.5, 3.75, -5.0, 3.67, 2.8, 2.29),
    ("α-toxin", "red", -10.8, 2.51, -6.5, 2.29, 3.9, 1.71),
    ("LukS", "blue", -13.8, 1.57, -9.6, 1.57, -2.3, 1.49),
    ("Spa", "red", 9.67, 5.30, 9.3, 4.84, 8.97, 4.03),
    ("IscD", "red", 18.2, 0.23, 17.2, 0.55, 10.8, 2.15),
]
B_labels = [
    ("Spa", "red", -6.7, 6.12, -4.5, 6.12, 5.4, 4.81),
    ("NucB", "red", -13.1, 5.34, -9.8, 5.22, 4.3, 4.69),
    ("α-toxin", "red", -13.9, 2.64, -10.1, 2.61, 1.34, 2.82),
    ("LukS", "black", -13.6, 0.24, -10.6, 0.24, -1.4, 0.52),
    ("ClfA", "black", -12.9, -0.51, -10.1, -0.25, -0.85, 0.27),
    ("IsdC", "black", -6.6, -0.91, -5.2, -0.47, -0.57, -0.04),
]
E_labels = [
    ("ClfA", "red", -4.1, 5.75, -3.75, 5.36, 3.9, 4.12),
    ("NucB", "red", -11.1, 4.80, -7.8, 4.74, 5.0, 3.81),
    ("α-toxin", "red", -9.2, 4.06, -5.4, 3.97, 2.26, 3.0),
    ("LukS", "red", -12.5, 1.68, -9.75, 1.52, 0.62, 1.15),
    ("Spa", "red", 9.9, 5.42, 10.4, 5.61, 9.3, 6.25),
    ("IsdC", "red", 18.2, 0.16, 16.9, 0.53, 12.6, 1.77),
]
C_labels = [
    ("NucB", "red", 9.77, 4.16, 6.4, 4.08, 2.15, 3.94),
    ("LukS", "red", 9.5, 2.47, 6.5, 2.67, 2.3, 2.9),
    ("ClfA", "black", -12.65, -0.02, -10.0, 0.15, -2.5, 0.50),
    ("IsdC", "black", -6.3, -0.36, -4.9, -0.12, -1.1, 0.26),
    ("Spa", "black", 12.2, -0.04, 8.95, -0.05, 1.6, 0.57),
    ("α-toxin", "black", 13.0, -0.44, 8.1, -0.33, 1.06, 0.23),
]
F_labels = [
    ("LukS", "red", 12.2, 3.03, 9.2, 2.88, 2.1, 3.32),
    ("NucB", "red", 12.1, 2.17, 9.5, 2.41, 2.4, 3.18),
    ("Spa", "black", 14.4, 0.79, 11.3, 0.95, 0.0, 1.6),
    ("α-toxin", "black", 12.8, -0.14, 9.0, 0.13, 1.6, 0.28),
    ("IsdC", "black", -10.0, 0.06, -7.6, 0.15, -2.8, 0.42),
    ("ClfA", "black", -10.4, -0.61, -7.7, -0.36, -0.9, 0.08),
]

counts = {
    "A": ("22 (9 proteases)", "1104"),
    "D": ("17 (7 proteases)", "1092"),
    "B": ("14 (10 proteases)", "1017"),
    "E": ("13 (10 proteases)", "968"),
    "C": ("393 (10 proteases)", "120"),
    "F": ("335 (10 proteases)", "104"),
}
subtitles = {
    "A": "(<i>wild-type</i> vs. <i>sarA</i>)",
    "D": "(<i>wild-type</i> vs. <i>sarA</i>)",
    "B": "<i>(sarA/protease vs. sarA)</i>",
    "E": "(<i>sarA/protease</i> vs. <i>sarA</i>)",
    "C": "(<i>sarA/protease</i> vs. <i>wild-type</i>)",
    "F": "(<i>sarA/protease</i> vs. <i>wild-type</i>)",
}
x_ticks = [-20, -10, 0, 10, 20]
FC_CUT = 0.585   # log2(1.5)
P_CUT = 1.0      # -log10(0.1)

# ----------------------------------------------------------------- layout geometry (pixels)
panels = [
    dict(k="A", red=A_red, blue=A_blue, black=A_black, labels=A_labels,
         box=(107, 370, 88, 310), xr=[-21.5, 21.5], yr=[-1.27, 7.30], yt=[0, 2, 4, 6],
         cnt=((0.019, 0.914), (0.985, 0.914)), letter=(14, 70), ytitle_x=53, xt_y=(357, 379), xt_x=238),
    dict(k="D", red=D_red, blue=D_blue, black=D_black, labels=D_labels,
         box=(516, 778, 88, 310), xr=[-21.48, 21.48], yr=[-1.34, 8.34], yt=[0, 2, 4, 6, 8],
         cnt=((0.023, 0.91), (0.996, 0.91)), letter=(427, 69), ytitle_x=462, xt_y=(362, 384), xt_x=646),
    dict(k="B", red=B_red, blue=B_blue, black=B_black, labels=B_labels,
         box=(107, 370, 465, 689), xr=[-21.5, 21.5], yr=[-1.31, 7.06], yt=[0, 2, 4, 6],
         cnt=((0.004, 0.955), (0.989, 0.955)), letter=(13, 448), ytitle_x=53, xt_y=(746, 768), xt_x=238),
    dict(k="E", red=E_red, blue=E_blue, black=E_black, labels=E_labels,
         box=(511, 773, 466, 690), xr=[-21.6, 21.3], yr=[-1.33, 6.99], yt=[0, 2, 4, 6],
         cnt=((0.034, 0.946), (1.0, 0.96)), letter=(423, 448), ytitle_x=465, xt_y=(746, 768), xt_x=643),
    dict(k="C", red=C_red, blue=C_blue, black=C_black, labels=C_labels,
         box=(107, 370, 872, 1096), xr=[-21.5, 21.5], yr=[-1.23, 5.38], yt=[-1, 0, 1, 2, 3, 4, 5],
         cnt=((0.023, 0.933), (0.989, 0.951)), letter=(12, 858), ytitle_x=53, xt_y=(1152, 1175), xt_x=238),
    dict(k="F", red=F_red, blue=F_blue, black=F_black, labels=F_labels,
         box=(516, 779, 872, 1096), xr=[-21.48, 21.64], yr=[-1.23, 5.4], yt=[-1, 0, 1, 2, 3, 4, 5],
         cnt=((0.008, 0.924), (0.973, 0.951)), letter=(422, 854), ytitle_x=462, xt_y=(1152, 1174), xt_x=647),
]

COLORS = {"red": RED, "blue": LBLUE, "black": "#000000"}

fig = go.Figure()
shapes, annos = [], []
layout = dict(width=W, height=H, margin=dict(l=0, r=0, t=0, b=0), showlegend=False,
              plot_bgcolor="white", paper_bgcolor="white")

def px(x):
    return x / W

def py(y):
    return 1 - y / H

for i, p in enumerate(panels, start=1):
    sx = "" if i == 1 else str(i)
    xa, ya = "x" + sx, "y" + sx
    l, r, t, b = p["box"]
    axis_common = dict(showline=True, linecolor="black", linewidth=1, mirror=True,
                       ticks="outside", ticklen=5, tickcolor="black", tickwidth=1,
                       showgrid=False, zeroline=False,
                       tickfont=dict(family="Liberation Sans, Arial, sans-serif", size=11, color="#444"))
    layout["xaxis" + sx] = dict(domain=[px(l), px(r)], range=p["xr"], anchor=ya,
                                tickvals=x_ticks, ticktext=[str(v) for v in x_ticks],
                                ticklabelstandoff=8, **axis_common)
    layout["yaxis" + sx] = dict(domain=[py(b), py(t)], range=p["yr"], anchor=xa,
                                tickvals=p["yt"], ticktext=[str(v) for v in p["yt"]],
                                tickangle=-90, ticklabelstandoff=9, **axis_common)

    for pts, kind in ((p["black"], "black"), (p["red"], "red"), (p["blue"], "blue")):
        xs = [q[0] for q in pts]
        ys = [q[1] for q in pts]
        if kind == "blue":
            marker = dict(symbol="circle-open", size=6, color=BLUE, line=dict(width=1, color=BLUE))
        else:
            marker = dict(symbol="circle", size=7 if kind == "red" else 6.5,
                          color=RED if kind == "red" else "#000000", line=dict(width=0))
        fig.add_trace(go.Scatter(x=xs, y=ys, mode="markers", marker=marker,
                                 xaxis=xa, yaxis=ya, hoverinfo="skip"))

    # threshold lines
    for xv in (-FC_CUT, FC_CUT):
        shapes.append(dict(type="line", xref=xa, yref=ya + " domain", x0=xv, x1=xv, y0=0, y1=1,
                           line=dict(color="black", width=1, dash="dash")))
    shapes.append(dict(type="line", xref=xa + " domain", yref=ya, x0=0, x1=1, y0=P_CUT, y1=P_CUT,
                       line=dict(color="black", width=1, dash="dash")))

    # protein labels with leader lines
    for text, col, tx, ty, x0, y0, x1, y1 in p["labels"]:
        annos.append(dict(text=text, x=tx, y=ty, xref=xa, yref=ya, showarrow=False,
                          xanchor="center", yanchor="middle",
                          font=dict(family=FONT, size=15, color=COLORS[col])))
        shapes.append(dict(type="line", xref=xa, yref=ya, x0=x0, y0=y0, x1=x1, y1=y1,
                           line=dict(color="black", width=1.4)))

    # counts
    ltxt, rtxt = counts[p["k"]]
    (lx, ly), (rx, ry) = p["cnt"]
    annos.append(dict(text=ltxt, x=lx, y=ly, xref=xa + " domain", yref=ya + " domain",
                      showarrow=False, xanchor="left", yanchor="middle",
                      font=dict(family=FONT, size=15, color="black")))
    annos.append(dict(text=rtxt, x=rx, y=ry, xref=xa + " domain", yref=ya + " domain",
                      showarrow=False, xanchor="right", yanchor="middle",
                      font=dict(family=FONT, size=15, color="black")))

    # panel letter
    lxp, lyp = p["letter"]
    annos.append(dict(text="<b>%s</b>" % p["k"], x=px(lxp), y=py(lyp), xref="paper", yref="paper",
                      showarrow=False, xanchor="center", yanchor="middle",
                      font=dict(family=FONT, size=38, color="black")))

    # axis titles
    annos.append(dict(text="-log<sub>10</sub> (p-value)", x=px(p["ytitle_x"]), y=py((t + b) / 2),
                      xref="paper", yref="paper", showarrow=False, textangle=-90,
                      xanchor="center", yanchor="middle",
                      font=dict(family=FONT, size=17, color="black")))
    annos.append(dict(text="log<sub>2</sub> Fold change", x=px(p["xt_x"]), y=py(p["xt_y"][0]),
                      xref="paper", yref="paper", showarrow=False, xanchor="center", yanchor="middle",
                      font=dict(family=FONT, size=18, color="black")))
    annos.append(dict(text=subtitles[p["k"]], x=px(p["xt_x"]), y=py(p["xt_y"][1]),
                      xref="paper", yref="paper", showarrow=False, xanchor="center", yanchor="middle",
                      font=dict(family=FONT, size=18, color="black")))

# column headers
for text, cx, x0, x1 in (("Total Proteoforms", 240, 135, 345), ("Full-length Protein", 643, 535, 752)):
    annos.append(dict(text="<b>%s</b>" % text, x=px(cx), y=py(14), xref="paper", yref="paper",
                      showarrow=False, xanchor="center", yanchor="middle",
                      font=dict(family=FONT, size=22, color="black")))
    shapes.append(dict(type="line", xref="paper", yref="paper", x0=px(x0), x1=px(x1),
                       y0=py(26), y1=py(26), line=dict(color="black", width=2)))

layout["shapes"] = shapes
layout["annotations"] = annos
fig.update_layout(**layout)
fig.write_html("out.html", config={"displayModeBar": False},
               post_script="document.body.style.margin='0px';document.body.style.overflow='hidden';")
